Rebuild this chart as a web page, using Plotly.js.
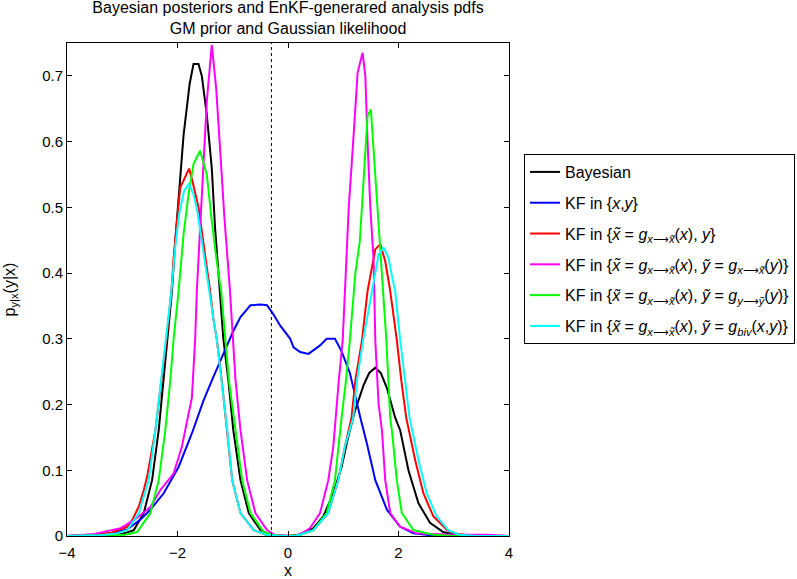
<!DOCTYPE html>
<html>
<head>
<meta charset="utf-8" />
<script src="https://cdn.plot.ly/plotly-3.0.1.min.js"></script>
<style>
  body { margin: 0; background: white; }
  #chart { width: 797px; height: 579px; }
</style>
</head>
<body>
<div id="chart"></div>
<script>
  // values
  const bayesX = [-4, -3.3, -3.0, -2.79, -2.61, -2.46, -2.34, -2.25, -2.18, -2.1, -2.04, -1.97, -1.89, -1.78, -1.71, -1.62, -1.56, -1.47, -1.38, -1.32, -1.23, -1.17, -1.08, -0.99, -0.86, -0.71, -0.5, -0.3, 0, 0.2, 0.46, 0.64, 0.82, 0.97, 1.09, 1.21, 1.37, 1.47, 1.58, 1.68, 1.79, 1.94, 2.03, 2.18, 2.36, 2.57, 2.81, 3.06, 3.4, 4];
  const bayesY = [0, 0.001, 0.003, 0.009, 0.035, 0.085, 0.161, 0.237, 0.3, 0.373, 0.449, 0.53, 0.61, 0.688, 0.718, 0.718, 0.7, 0.641, 0.56, 0.469, 0.373, 0.3, 0.237, 0.161, 0.085, 0.035, 0.009, 0.001, 0, 0.002, 0.012, 0.03, 0.065, 0.105, 0.151, 0.19, 0.23, 0.248, 0.256, 0.248, 0.225, 0.18, 0.161, 0.1, 0.05, 0.02, 0.006, 0.001, 0, 0];

  const kfX = [-4, -3.5, -3.2, -2.91, -2.67, -2.49, -2.25, -1.98, -1.74, -1.53, -1.35, -1.17, -1.0, -0.86, -0.68, -0.5, -0.38, -0.27, -0.14, 0.04, 0.1, 0.22, 0.37, 0.5, 0.58, 0.7, 0.85, 0.97, 1.12, 1.31, 1.43, 1.58, 1.79, 2.03, 2.27, 2.6, 4];
  const kfY = [0, 0.001, 0.004, 0.01, 0.025, 0.04, 0.065, 0.105, 0.156, 0.206, 0.242, 0.277, 0.31, 0.333, 0.351, 0.352, 0.351, 0.338, 0.32, 0.3, 0.287, 0.28, 0.277, 0.285, 0.29, 0.3, 0.3, 0.281, 0.248, 0.18, 0.14, 0.085, 0.04, 0.014, 0.004, 0.001, 0];

  const gxX = [-4, -3.5, -3.2, -2.91, -2.82, -2.7, -2.61, -2.55, -2.4, -2.29, -2.2, -2.11, -2.07, -2.01, -1.95, -1.79, -1.73, -1.62, -1.56, -1.49, -1.41, -1.35, -1.29, -1.2, -1.1, -1.01, -0.86, -0.62, -0.4, -0.1, 0.15, 0.46, 0.73, 0.91, 1.03, 1.15, 1.22, 1.34, 1.44, 1.52, 1.58, 1.67, 1.76, 1.82, 1.85, 1.97, 2.05, 2.14, 2.3, 2.45, 2.63, 2.88, 3.06, 3.4, 4];
  const gxY = [0, 0.002, 0.005, 0.014, 0.024, 0.045, 0.07, 0.09, 0.161, 0.237, 0.3, 0.373, 0.423, 0.479, 0.53, 0.559, 0.54, 0.5, 0.464, 0.423, 0.373, 0.33, 0.3, 0.237, 0.161, 0.085, 0.035, 0.009, 0.002, 0, 0, 0.009, 0.035, 0.085, 0.136, 0.18, 0.237, 0.298, 0.373, 0.408, 0.436, 0.444, 0.418, 0.388, 0.373, 0.298, 0.237, 0.18, 0.116, 0.065, 0.03, 0.009, 0.003, 0, 0];

  const gxxX = [-4, -3.5, -3.03, -2.79, -2.49, -2.31, -2.07, -1.92, -1.8, -1.74, -1.68, -1.65, -1.59, -1.54, -1.47, -1.38, -1.3, -1.23, -1.15, -1.05, -0.99, -0.95, -0.86, -0.74, -0.59, -0.38, -0.25, 0, 0.1, 0.25, 0.4, 0.58, 0.73, 0.82, 0.86, 0.92, 0.99, 1.06, 1.1, 1.18, 1.26, 1.35, 1.4, 1.44, 1.49, 1.55, 1.58, 1.64, 1.7, 1.76, 1.85, 2.03, 2.33, 2.6, 3.0, 3.6, 4];
  const gxxY = [0, 0.003, 0.012, 0.024, 0.044, 0.07, 0.095, 0.136, 0.186, 0.21, 0.3, 0.373, 0.469, 0.55, 0.661, 0.747, 0.681, 0.59, 0.483, 0.373, 0.3, 0.237, 0.161, 0.085, 0.035, 0.009, 0.002, 0, 0, 0.004, 0.012, 0.035, 0.085, 0.136, 0.18, 0.237, 0.298, 0.419, 0.5, 0.6, 0.705, 0.735, 0.7, 0.6, 0.5, 0.419, 0.298, 0.2, 0.161, 0.085, 0.035, 0.014, 0.004, 0.003, 0.002, 0.002, 0];

  const gyyX = [-4, -3.2, -2.95, -2.73, -2.49, -2.34, -2.22, -2.13, -2.07, -1.98, -1.89, -1.8, -1.71, -1.59, -1.47, -1.38, -1.29, -1.21, -1.14, -1.07, -0.95, -0.83, -0.68, -0.44, -0.25, 0, 0.2, 0.46, 0.7, 0.85, 0.97, 1.05, 1.12, 1.22, 1.3, 1.37, 1.44, 1.5, 1.58, 1.64, 1.68, 1.73, 1.78, 1.85, 1.88, 1.97, 2.06, 2.27, 2.63, 3.0, 4];
  const gyyY = [0, 0.001, 0.002, 0.006, 0.035, 0.085, 0.161, 0.237, 0.3, 0.373, 0.459, 0.52, 0.566, 0.586, 0.55, 0.48, 0.418, 0.373, 0.3, 0.237, 0.161, 0.085, 0.035, 0.006, 0.001, 0, 0.001, 0.009, 0.035, 0.085, 0.18, 0.237, 0.298, 0.4, 0.449, 0.55, 0.639, 0.649, 0.55, 0.474, 0.423, 0.373, 0.298, 0.18, 0.161, 0.085, 0.035, 0.009, 0.002, 0, 0];

  const bivX = [-4, -3.4, -3.1, -2.91, -2.7, -2.52, -2.4, -2.3, -2.21, -2.11, -2.04, -1.97, -1.88, -1.79, -1.71, -1.64, -1.56, -1.49, -1.43, -1.35, -1.29, -1.2, -1.1, -1.01, -0.86, -0.62, -0.4, -0.15, 0.15, 0.46, 0.73, 0.91, 1.03, 1.18, 1.25, 1.36, 1.45, 1.53, 1.58, 1.64, 1.73, 1.82, 1.9, 1.94, 2.03, 2.12, 2.2, 2.36, 2.51, 2.69, 2.9, 3.1, 3.4, 4];
  const bivY = [0, 0.001, 0.004, 0.009, 0.035, 0.085, 0.161, 0.237, 0.3, 0.373, 0.44, 0.49, 0.525, 0.536, 0.52, 0.494, 0.449, 0.408, 0.373, 0.33, 0.3, 0.237, 0.161, 0.085, 0.035, 0.009, 0.002, 0, 0, 0.009, 0.035, 0.085, 0.136, 0.18, 0.237, 0.298, 0.34, 0.373, 0.398, 0.428, 0.439, 0.423, 0.388, 0.373, 0.298, 0.237, 0.18, 0.116, 0.065, 0.03, 0.009, 0.002, 0, 0];

  const seriesNames = [
    "Bayesian",
    "KF in {<i>x</i>,<i>y</i>}",
    "KF in {<i>x̃</i> = <i>g</i><sub><i>x</i>⟶<i>x̃</i></sub>(<i>x</i>), <i>y</i>}",
    "KF in {<i>x̃</i> = <i>g</i><sub><i>x</i>⟶<i>x̃</i></sub>(<i>x</i>), <i>ỹ</i> = <i>g</i><sub><i>x</i>⟶<i>x̃</i></sub>(<i>y</i>)}",
    "KF in {<i>x̃</i> = <i>g</i><sub><i>x</i>⟶<i>x̃</i></sub>(<i>x</i>), <i>ỹ</i> = <i>g</i><sub><i>y</i>⟶<i>ỹ</i></sub>(<i>y</i>)}",
    "KF in {<i>x̃</i> = <i>g</i><sub><i>x</i>⟶<i>x̃</i></sub>(<i>x</i>), <i>ỹ</i> = <i>g</i><sub><i>biv</i></sub>(<i>x</i>,<i>y</i>)}"
  ];
  const seriesColors = ["#000000", "#0000ff", "#ff0000", "#ff00ff", "#00ff00", "#00ffff"];
  const xTicks = [-4, -2, 0, 2, 4];
  const yTicks = [0, 0.1, 0.2, 0.3, 0.4, 0.5, 0.6, 0.7];
  const obsX = -0.3;

  const xs = [bayesX, kfX, gxX, gxxX, gyyX, bivX];
  const ys = [bayesY, kfY, gxY, gxxY, gyyY, bivY];

  const traces = xs.map((x, i) => ({
    x: x,
    y: ys[i],
    type: "scatter",
    mode: "lines",
    name: seriesNames[i],
    legendgroup: "g" + i,
    line: { color: seriesColors[i], width: 2 },
    hoverinfo: "none",
  }));

  const font = "Liberation Sans, Arial, sans-serif";

  const layout = {
    width: 797,
    height: 579,
    margin: { l: 67, r: 288, t: 43, b: 43 },
    paper_bgcolor: "white",
    plot_bgcolor: "white",
    font: { family: font, size: 15, color: "#000" },
    title: {
      text: "Bayesian posteriors and EnKF-generared analysis pdfs<br>GM prior and Gaussian likelihood",
      font: { family: font, size: 16 },
      x: 0.5,
      xref: "paper",
      y: 0.977,
      yref: "container",
      yanchor: "top",
    },
    xaxis: {
      range: [-4, 4],
      tickvals: xTicks,
      ticks: "inside",
      ticklen: 5,
      tickcolor: "#000",
      ticklabelstandoff: 3,
      showline: true,
      linecolor: "#000",
      linewidth: 1,
      mirror: "ticks",
      showgrid: false,
      zeroline: false,
      title: { text: "x", standoff: 8, font: { family: font, size: 16 } },
    },
    yaxis: {
      range: [0, 0.75],
      tickvals: yTicks,
      ticks: "inside",
      ticklen: 5,
      tickcolor: "#000",
      showline: true,
      linecolor: "#000",
      linewidth: 1,
      mirror: "ticks",
      showgrid: false,
      zeroline: false,
      title: { text: "p<sub>y|x</sub>(y|x)", standoff: 22, font: { family: font, size: 16 } },
    },
    shapes: [
      {
        type: "line",
        xref: "x",
        yref: "paper",
        x0: obsX,
        x1: obsX,
        y0: 0,
        y1: 1,
        line: { color: "#000", width: 1, dash: "dot" },
      },
    ],
    showlegend: true,
    legend: {
      xref: "container",
      yref: "container",
      x: 0.6575,
      y: 0.734,
      xanchor: "left",
      yanchor: "top",
      bordercolor: "#000",
      borderwidth: 1,
      bgcolor: "white",
      font: { family: font, size: 16 },
      itemwidth: 30,
      tracegroupgap: 7,
    },
  };

  Plotly.newPlot("chart", traces, layout, { displayModeBar: false, staticPlot: true });
</script>
</body>
</html>
